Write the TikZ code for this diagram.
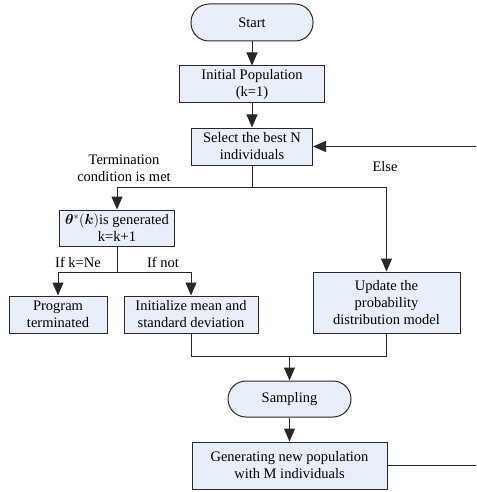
\documentclass[tikz,border=0pt]{standalone}
\usepackage{fontspec}
\setmainfont{Liberation Serif}
\usepackage{amsmath,bm}
\usetikzlibrary{arrows.meta,positioning}

\definecolor{boxfill}{RGB}{232,238,250}
\definecolor{edgegray}{RGB}{40,40,40}

\tikzset{
  box/.style={draw=edgegray, fill=boxfill, line width=1pt, align=center,
    inner sep=1pt, minimum height=37pt},
  term/.style={box, rounded corners=18pt},
  lbl/.style={align=center, inner sep=1pt},
  flow/.style={-{Triangle[length=13pt,width=11pt]}, line width=1pt, draw=edgegray},
  wire/.style={line width=1pt, draw=edgegray}
}

\begin{document}
\begin{tikzpicture}[x=1pt, y=-1pt, font=\fontsize{14.5}{17}\selectfont]
	\useasboundingbox (0,0) rectangle (476,492);
	\clip (0,0) rectangle (476,492);
	% main column
	\node [term, minimum width=122pt] (start) at (252,22.5) {Start};
	\node [box, minimum width=145pt] (init) [below=24pt of start] {Initial Population\\(k=1)};
	\node [box, minimum width=121pt] (select) [below=24pt of init] {Select the best N\\individuals};
	% left branch
	\node [box, minimum width=115pt, minimum height=36pt] (theta) at (117,228) {$\bm{\theta}^{*}(\bm{k})$is generated\\k=k+1};
	\node [box, minimum width=98pt] (prog) at (58,314.5) {Program\\terminated};
	\node [box, minimum width=134pt] (initmean) at (191,314.5) {Initialize mean and\\standard deviation};
	% right branch
	\node [box, minimum width=147pt, minimum height=61pt] (update) at (386.5,302.5) {Update the\\probability\\distribution model};
	% bottom
	\node [term, minimum width=123pt, minimum height=36pt] (sampling) at (289.5,399) {Sampling};
	\node [box, minimum width=195pt, minimum height=47pt] (gen) at (289.5,465.5) {Generating new population\\with M individuals};

	\node [lbl] (termtxt) at (124,168) {Termination\\condition is met};
	\node [lbl] (elsetxt) at (385,167) {Else};
	\node [lbl] (ifne) at (78,262) {If k=Ne};
	\node [lbl] (ifnot) at (163,262) {If not};

	\coordinate (split) at (select.south |- 0,187);
	\coordinate (ifsplit) at (theta.south |- 0,272);
	\coordinate (merge) at (sampling.north |- 0,356);
	\coordinate (back) at (490,0);

	\draw [flow] (start) -- (init);
	\draw [flow] (init) -- (select);
	\draw [wire] (select) -- (split);
	\draw [flow] (split) -| (theta);
	\draw [flow] (split) -| (update);
	\draw [wire] (theta) -- (ifsplit);
	\draw [flow] (ifsplit) -| (prog);
	\draw [flow] (ifsplit) -| (initmean);
	\draw [wire] (initmean) |- (merge);
	\draw [wire] (update) |- (merge);
	\draw [flow] (merge) -- (sampling);
	\draw [flow] (sampling) -- (gen);
	% loop back to the selection step
	\draw [flow] (gen.east) -- (back |- gen.east) -- (back |- select.east) -- (select.east);
\end{tikzpicture}
\end{document}
